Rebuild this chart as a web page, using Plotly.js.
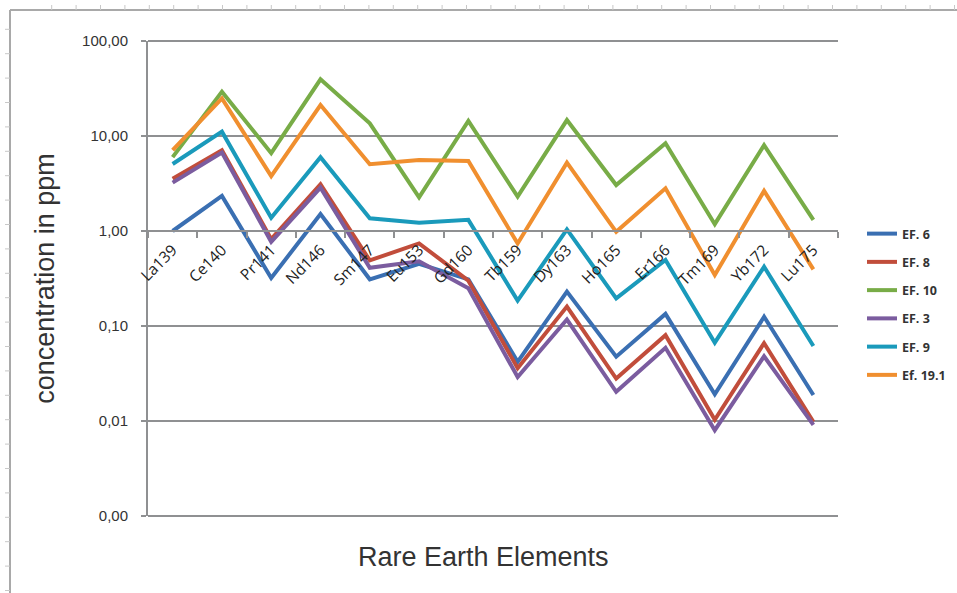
<!DOCTYPE html>
<html>
<head>
<meta charset="utf-8">
<script src="https://cdn.plot.ly/plotly-3.0.1.min.js"></script>
<style>
  html, body { margin: 0; padding: 0; background: #ffffff; }
  #chart { width: 957px; height: 593px; }
</style>
</head>
<body>
<div id="chart"></div>
<script>
// ---- data ----
const categories = ["La139","Ce140","Pr141","Nd146","Sm147","Eu153","Gd160","Tb159","Dy163","Ho165","Er166","Tm169","Yb172","Lu175"];
const seriesNames = ["EF. 6","EF. 8","EF. 10","EF. 3","EF. 9","Ef. 19.1"];
const ef6   = [1.00, 2.34, 0.32, 1.51, 0.31, 0.45, 0.31, 0.042, 0.23, 0.0475, 0.134, 0.0191, 0.125, 0.0188];
const ef8   = [3.55, 7.10, 0.82, 3.10, 0.49, 0.74, 0.30, 0.036, 0.16, 0.028, 0.080, 0.0103, 0.066, 0.0098];
const ef10  = [6.0, 29.3, 6.6, 39.5, 13.6, 2.26, 14.4, 2.30, 14.7, 3.05, 8.4, 1.18, 8.0, 1.31];
const ef3   = [3.23, 6.70, 0.77, 2.86, 0.41, 0.48, 0.25, 0.029, 0.117, 0.0203, 0.059, 0.0080, 0.048, 0.0091];
const ef9   = [5.07, 11.1, 1.38, 5.97, 1.36, 1.22, 1.31, 0.185, 1.04, 0.195, 0.495, 0.0668, 0.42, 0.0616];
const ef191 = [7.1, 24.9, 3.79, 21.2, 5.04, 5.6, 5.46, 0.74, 5.24, 0.98, 2.81, 0.344, 2.64, 0.395];
const yTickVals = [0.001, 0.01, 0.1, 1, 10, 100];
const yTickText = ["0,00", "0,01", "0,10", "1,00", "10,00", "100,00"];

// ---- styles ----
const seriesData = [ef6, ef8, ef10, ef3, ef9, ef191];
const colors = ["#3a6fb2", "#c14d3b", "#78ac47", "#7b5c9f", "#1a9abb", "#f08f2f"];
const gridGrey = "#8f9092";

const traces = seriesData.map((vals, i) => ({
  type: "scatter",
  mode: "lines",
  name: seriesNames[i],
  legendgroup: "g" + i,
  x: categories,
  y: vals,
  line: { color: colors[i], width: 4 },
  hoverinfo: "x+y+name"
}));

// plot area in px (for decoration conversion)
const W = 957, H = 593;
const L = 148, R = 838, T = 41, B = 516;
const px = v => (v - L) / (R - L);
const py = v => (B - v) / (B - T);
const frameCol = "#a9a9a9";
const shapes = [
  // top and bottom gridlines (Plotly omits gridlines lying on the plot edges)
  { type: "line", xref: "paper", yref: "paper", layer: "below", x0: 0, x1: 1, y0: 1, y1: 1, line: { color: gridGrey, width: 2 } },
  { type: "line", xref: "paper", yref: "paper", layer: "below", x0: 0, x1: 1, y0: 0, y1: 0, line: { color: gridGrey, width: 2 } },
  // outer sheet frame
  { type: "line", xref: "paper", yref: "paper", x0: px(10), x1: px(957), y0: py(10), y1: py(10), line: { color: frameCol, width: 2 } },
  { type: "line", xref: "paper", yref: "paper", x0: px(10), x1: px(10), y0: py(10), y1: py(593), line: { color: frameCol, width: 2 } }
];
for (let xx = 51.7; xx < 957; xx += 24.4) {
  shapes.push({ type: "line", xref: "paper", yref: "paper", x0: px(xx), x1: px(xx), y0: py(5), y1: py(10), line: { color: "#c8c8c8", width: 1 } });
}
for (let yy = 29.3; yy < 593; yy += 24.4) {
  shapes.push({ type: "line", xref: "paper", yref: "paper", x0: px(5), x1: px(10), y0: py(yy), y1: py(yy), line: { color: "#c8c8c8", width: 1 } });
}

const layout = {
  width: W,
  height: H,
  paper_bgcolor: "#ffffff",
  plot_bgcolor: "#ffffff",
  margin: { l: L, r: W - R, t: T, b: H - B, pad: 0, autoexpand: false },
  font: { family: "Liberation Sans, Arial, sans-serif", color: "#333333" },
  showlegend: true,
  legend: {
    xref: "container", yref: "container",
    x: 862 / W, y: (H - 219) / H, xanchor: "left", yanchor: "top",
    font: { family: "Liberation Sans Narrow, Open Sans, sans-serif", size: 12.5, color: "#333333", weight: 700 },
    tracegroupgap: 9,
    bgcolor: "rgba(0,0,0,0)"
  },
  xaxis: {
    type: "category",
    categoryorder: "array",
    categoryarray: categories,
    range: [-0.5, categories.length - 0.5],
    anchor: "free",
    position: 0.6,
    showline: true,
    linecolor: gridGrey,
    linewidth: 2,
    showgrid: false,
    ticks: "outside",
    tickson: "boundaries",
    ticklen: 6,
    tickwidth: 2,
    tickcolor: gridGrey,
    tickangle: -45,
    ticklabelstandoff: 3,
    tickfont: { family: "Open Sans, sans-serif", size: 15.5, color: "#222222" },
    fixedrange: true
  },
  yaxis: {
    type: "log",
    range: [-3, 2],
    tickvals: yTickVals,
    ticktext: yTickText,
    showgrid: true,
    gridcolor: gridGrey,
    gridwidth: 2,
    showline: true,
    linecolor: gridGrey,
    linewidth: 2,
    ticks: "outside",
    ticklen: 5,
    tickwidth: 2,
    tickcolor: gridGrey,
    ticklabelstandoff: 10,
    tickfont: { family: "Liberation Sans, Arial, sans-serif", size: 15, color: "#333333" },
    title: {
      text: "concentration in ppm",
      font: { family: "Liberation Sans, Arial, sans-serif", size: 27, color: "#333333" },
      standoff: 20
    },
    zeroline: false,
    fixedrange: true
  },
  annotations: [
    {
      xref: "paper", yref: "paper",
      x: px(483), y: py(557),
      xanchor: "center", yanchor: "middle",
      text: "Rare Earth Elements",
      showarrow: false,
      font: { family: "Liberation Sans, Arial, sans-serif", size: 27, color: "#333333" }
    }
  ],
  shapes: shapes
};

Plotly.newPlot("chart", traces, layout, { displayModeBar: false, staticPlot: true });
</script>
</body>
</html>
